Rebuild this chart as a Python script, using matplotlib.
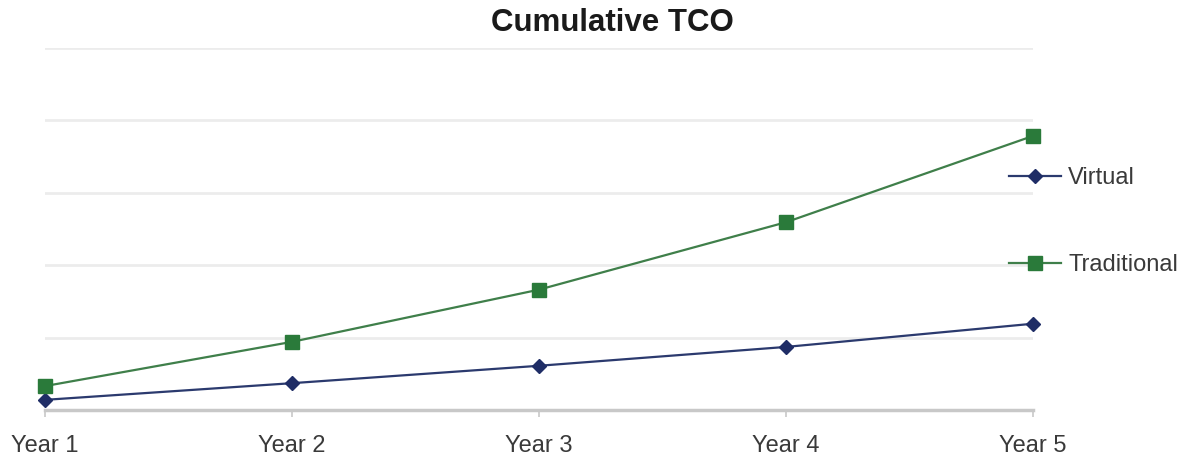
import matplotlib.pyplot as plt

years = ['Year 1', 'Year 2', 'Year 3', 'Year 4', 'Year 5']
virtual = [7, 18.5, 30.5, 43.5, 59.5]
traditional = [16.5, 47, 83, 129.5, 189]

plt.rcParams['font.family'] = ['Liberation Sans', 'DejaVu Sans']

fig = plt.figure(figsize=(11.92, 4.57), dpi=100)
ax = fig.add_axes([45 / 1192, 1 - 410 / 457, (1033 - 45) / 1192, (410 - 47.5) / 457])

x = range(len(years))
ax.plot(x, virtual, color='#2b3a6e', lw=1.6, marker='D', ms=7.5,
        mfc='#1f2d66', mec='#1f2d66', label='Virtual', clip_on=False, zorder=3)
ax.plot(x, traditional, color='#3f7f4a', lw=1.6, marker='s', ms=10,
        mfc='#2a7a3a', mec='#2a7a3a', label='Traditional', clip_on=False, zorder=3)

ax.set_xlim(0, 4)
ax.set_ylim(0, 250)
ax.set_xticks(list(x))
ax.set_xticklabels(years, fontsize=17, color='#3a3a3a')
ax.set_yticks([50, 100, 150, 200, 250])
ax.set_yticklabels([])
ax.tick_params(axis='y', length=0)
ax.tick_params(axis='x', length=5, width=1.2, color='#c8c8c8', pad=13)
ax.grid(axis='y', color='#ececec', lw=2)
for s in ['top', 'right', 'left']:
    ax.spines[s].set_visible(False)
ax.spines['bottom'].set_color('#c8c8c8')
ax.spines['bottom'].set_linewidth(2.5)

fig.text(612 / 1192, 1 - 23 / 457, 'Cumulative TCO', ha='center', va='center',
         fontsize=22.5, fontweight='bold', color='#1a1a1a')

leg = ax.legend(loc='upper left', bbox_to_anchor=(1009 / 1192, 1 - 167 / 457),
                bbox_transform=fig.transFigure, frameon=False, fontsize=17,
                labelspacing=2.75, handlelength=2.2, handletextpad=0.3,
                borderpad=0, borderaxespad=0)
for t in leg.get_texts():
    t.set_color('#3a3a3a')

fig.savefig('out.png', dpi=100)
